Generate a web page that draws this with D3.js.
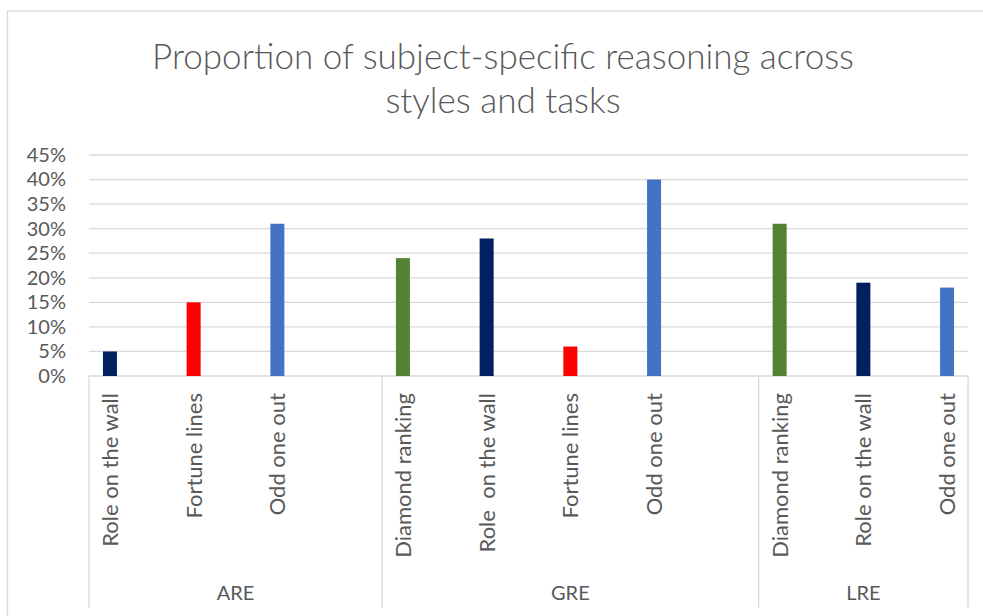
<!DOCTYPE html>
<html><head><meta charset="utf-8">
<script src="https://cdn.jsdelivr.net/npm/d3@7"></script>
<style>
html,body{margin:0;padding:0;background:#fff;}
text{font-family:Lato,"Open Sans",sans-serif;fill:#595959;white-space:pre;}
</style></head>
<body><svg id="chart" width="983" height="616"></svg>
<script>
const titleLines = ["Proportion of subject-specific reasoning across", "styles and tasks"];
const groups = ["ARE", "GRE", "LRE"];
const categories = [
  ["Role on the wall", "Fortune lines", "Odd one out"],
  ["Diamond ranking", "Role  on the wall", "Fortune lines", "Odd one out"],
  ["Diamond ranking", "Role on the wall", "Odd one out"]
];
const tasks = [
  ["Role on the wall", "Fortune lines", "Odd one out"],
  ["Diamond ranking", "Role on the wall", "Fortune lines", "Odd one out"],
  ["Diamond ranking", "Role on the wall", "Odd one out"]
];
const values = [
  [5, 15, 31],
  [24, 28, 6, 40],
  [31, 19, 18]
];
const yTicks = [0, 5, 10, 15, 20, 25, 30, 35, 40, 45];
const taskNames = ["Diamond ranking", "Role on the wall", "Fortune lines", "Odd one out"];
const taskColors = ["#548235", "#002060", "#FF0000", "#4472C4"];

const svg = d3.select("#chart");
const color = d3.scaleOrdinal().domain(taskNames).range(taskColors);

// chart area border
svg.append("rect").attr("x", 7.5).attr("y", 11).attr("width", 990).attr("height", 620)
  .attr("fill", "none").attr("stroke", "#d9d9d9").attr("stroke-width", 1.3);

// build slot positions
const items = [];
const bounds = [0];
let s = 0;
groups.forEach((g, gi) => {
  categories[gi].forEach((c, i) => {
    items.push({group: g, label: c, task: tasks[gi][i], value: values[gi][i], pos: s + 0.25 + i});
  });
  s = s + categories[gi].length + 0.5;
  bounds.push(s);
});
const domainEnd = items[items.length - 1].pos + 0.25;
bounds[bounds.length - 1] = domainEnd;

const plot = {left: 89, right: 968, top: 155, bottom: 376};
const x = d3.scaleLinear().domain([0, domainEnd]).range([plot.left, plot.right]);
const y = d3.scaleLinear().domain([0, 45]).range([plot.bottom, plot.top]);

// gridlines
svg.append("g").selectAll("line").data(yTicks).join("line")
  .attr("x1", plot.left).attr("x2", plot.right)
  .attr("y1", d => y(d)).attr("y2", d => y(d))
  .attr("stroke", "#d9d9d9").attr("stroke-width", 1.3);

// y axis labels
const yAxis = d3.axisLeft(y).tickValues(yTicks).tickFormat(d => d + "%").tickSize(0).tickPadding(0);
const ya = svg.append("g").attr("transform", "translate(66,0)").call(yAxis);
ya.select(".domain").remove();
ya.selectAll("text").style("font-size", "20px").attr("fill", "#595959").style("font-family", "Lato,sans-serif");

// bars
const bw = 14;
svg.append("g").selectAll("rect").data(items).join("rect")
  .attr("x", d => x(d.pos) - bw / 2).attr("width", bw)
  .attr("y", d => y(d.value)).attr("height", d => y(0) - y(d.value))
  .attr("fill", d => color(d.task));

// category separators
svg.append("g").selectAll("line").data(bounds).join("line")
  .attr("x1", d => x(d)).attr("x2", d => x(d))
  .attr("y1", plot.bottom).attr("y2", 607.5)
  .attr("stroke", "#d9d9d9").attr("stroke-width", 1.3);

// category labels
svg.append("g").selectAll("text").data(items).join("text")
  .attr("transform", d => `translate(${x(d.pos)},393) rotate(-90)`)
  .attr("text-anchor", "end").attr("dy", "0.36em")
  .style("font-size", "22px").text(d => d.label);

// group labels
svg.append("g").selectAll("text").data(groups).join("text")
  .attr("x", (d, i) => (x(bounds[i]) + x(bounds[i + 1])) / 2).attr("y", 600)
  .attr("text-anchor", "middle").style("font-size", "20px").text(d => d);

// title
svg.append("g").selectAll("text").data(titleLines).join("text")
  .attr("x", 503).attr("y", (d, i) => 69 + i * 44)
  .attr("text-anchor", "middle").style("font-size", "35px").style("font-weight", 300)
  .text(d => d);
</script></body></html>
